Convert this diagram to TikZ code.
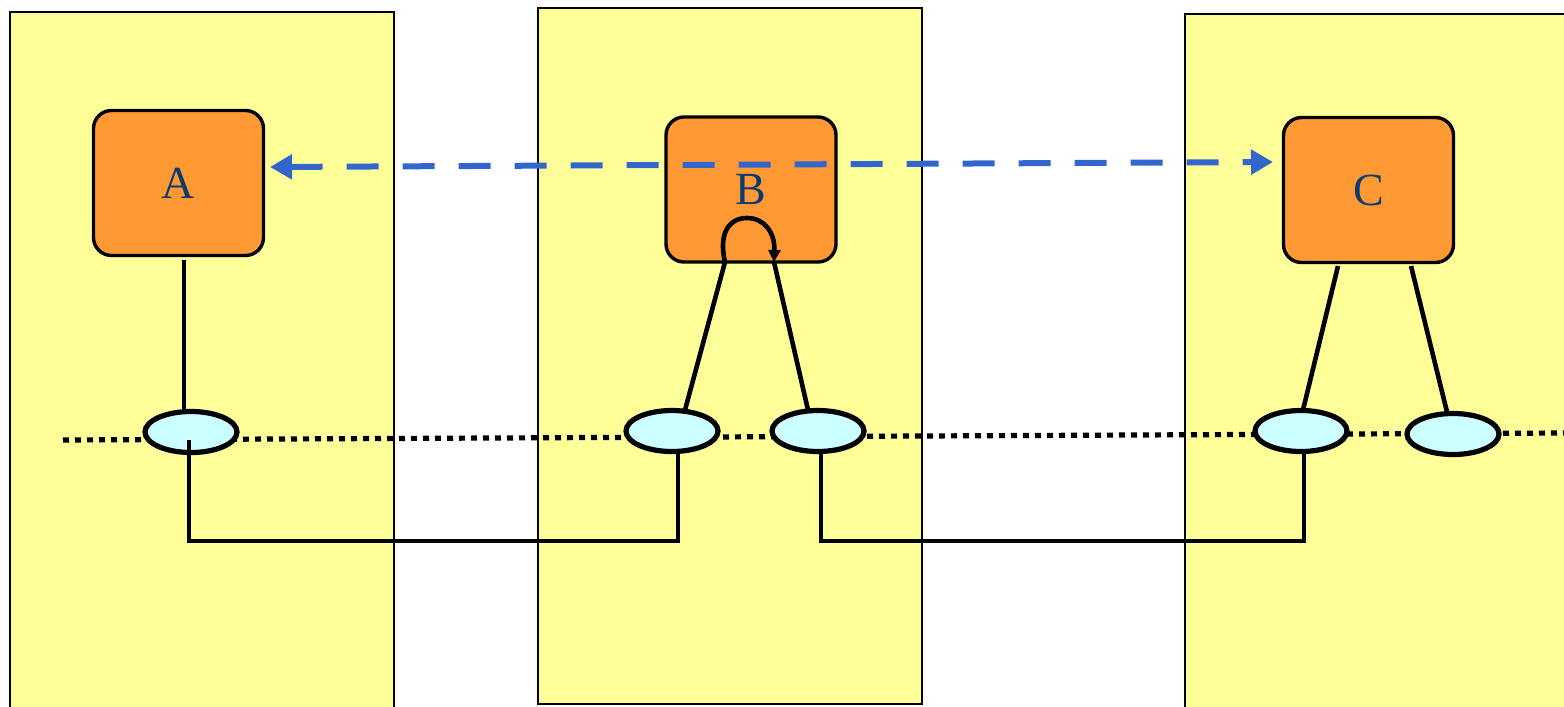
\documentclass[tikz,border=0pt]{standalone}
\usepackage{fontspec}
\setmainfont{Liberation Serif}
\usetikzlibrary{arrows.meta,shapes.geometric,calc}
\definecolor{panelY}{HTML}{FFFF99}
\definecolor{boxO}{HTML}{FF9933}
\definecolor{ellC}{HTML}{CCFFFF}
\definecolor{arrB}{HTML}{3366CC}
\definecolor{txtB}{HTML}{0E3A6C}
\tikzset{
  panel/.style={draw=black,line width=1.1pt,fill=panelY},
  proc/.style={draw=black,line width=1.7pt,fill=boxO,rounded corners=9pt,minimum width=85pt,minimum height=72.5pt,inner sep=0pt,text=txtB,font=\fontsize{23}{25}\selectfont},
  port/.style={ellipse,draw=black,line width=2.6pt,fill=ellC,minimum width=46pt,minimum height=20.5pt,inner sep=0pt},
  wire/.style={draw=black,line width=2.3pt},
  bus/.style={draw=black,line width=2.6pt,dash pattern=on 3pt off 3pt},
  msg/.style={draw=arrB,line width=3pt,dash pattern=on 16pt off 12pt,{Triangle[length=11pt,width=12pt]}-{Triangle[length=11pt,width=12pt]}},
}
\begin{document}
\begin{tikzpicture}[x=0.5pt,y=-0.5pt]
\useasboundingbox (0,0) rectangle (1564,707);
% panels
\path[panel] (10,12) rectangle (394,712);
\path[panel] (538,8) rectangle (922,704);
\path[panel] (1185,14) rectangle (1570,712);
% bus line
\coordinate (busL) at (63,440);
\coordinate (busR) at (1564,433);
\draw[bus] (busL) -- (busR);
% processes
\node[proc] (A) at (178.5,183) {A};
\node[proc] (B) at (751,189.5) {B};
\node[proc] (C) at (1368.5,190) {C};
% ports
\node[port] (e1) at (191,432) {};
\node[port] (e2) at (672,431) {};
\node[port] (e3) at (818,431) {};
\node[port] (e4) at (1301,431) {};
\node[port] (e5) at (1453,434) {};
% message arrow
\coordinate (mL) at (270,167);
\coordinate (mR) at (1273,162);
\draw[msg] (mL) -- (mR);
% box-to-port wires
\coordinate (a1) at (184,260);
\coordinate (b1) at (725,262);
\coordinate (b2) at (774,262);
\coordinate (c1) at (1338,266);
\coordinate (c2) at (1411,266);
\draw[wire] (a1) -- (e1.north -| a1);
\draw[wire] (b1) -- (685,410);
\draw[wire] (b2) -- (808,410);
\draw[wire] (c1) -- (1303,410);
\draw[wire] (c2) -- (1447,412);
% self loop in B
\draw[wire,-{Triangle[length=6pt,width=6pt]}] (b1) .. controls (718,232) and (730,218) .. (747,218) .. controls (764,218) and (775,232) .. (b2);
% bottom links
\coordinate (l1) at (189,440);
\draw[wire] (l1) -- (189,541) -- (678,541) -- (e2.south -| 678,0);
\draw[wire] (e3.south -| 821,0) -- (821,541) -- (1304,541) -- (e4.south -| 1304,0);
\end{tikzpicture}
\end{document}
